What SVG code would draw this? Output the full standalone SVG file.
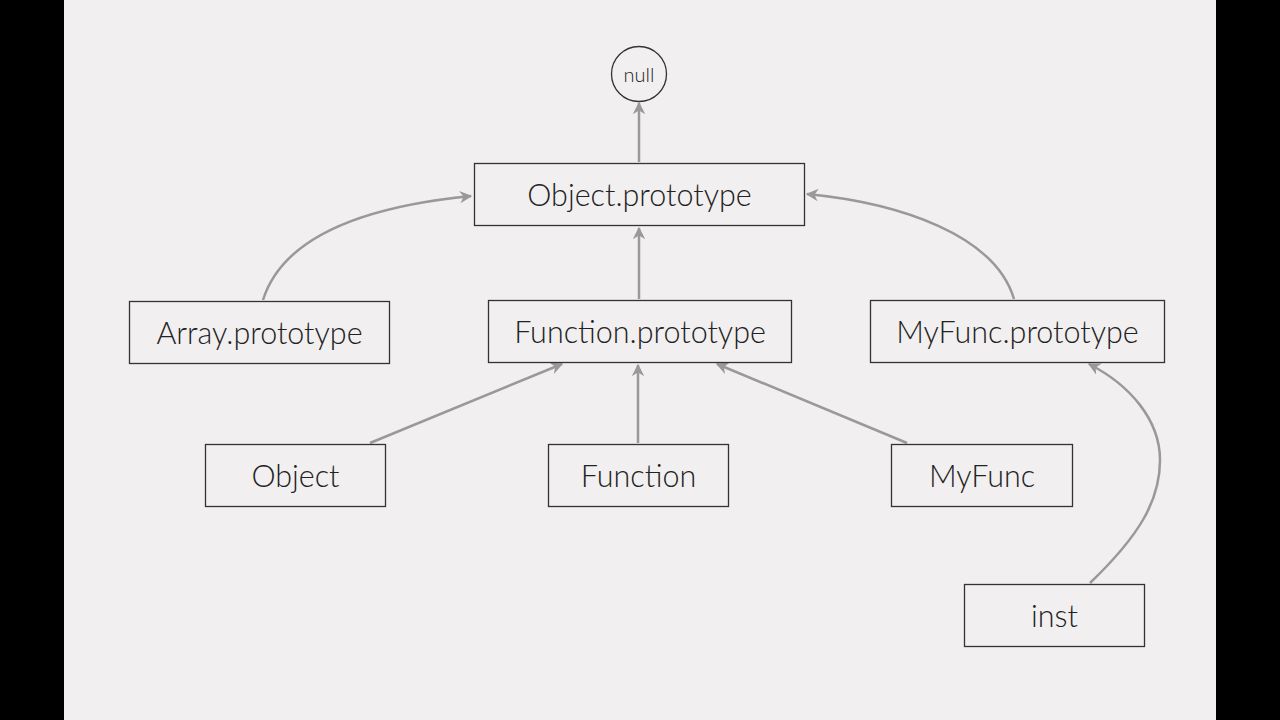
<svg xmlns="http://www.w3.org/2000/svg" width="1280" height="720" viewBox="0 0 1280 720">
<defs>
<style>
.node rect, .node circle { fill: none; stroke: #333; stroke-width: 1.3; }
.node text { font-family: Lato, "Open Sans", sans-serif; font-weight: 300; font-size: 30.5px; fill: #222; text-anchor: middle; dominant-baseline: central; }
.node text.small { font-size: 20px; }
#edges path { fill: none; stroke: #999; stroke-width: 2.5; marker-end: url(#arr); }
</style>
<marker id="arr" viewBox="0 0 10 10" refX="9" refY="5" markerWidth="5" markerHeight="5" orient="auto" markerUnits="strokeWidth">
<path d="M0,0 L10,5 L0,10 L3,5 Z" fill="#999"/>
</marker>
</defs>
<rect x="0" y="0" width="1280" height="720" fill="#000"/>
<rect x="64" y="0" width="1152" height="720" fill="#f1efef"/>
<g id="edges">
<path d="M639,162 L639,103"/>
<path d="M263,300 C285,230 380,205 471,196"/>
<path d="M1014,299 C995,235 900,203 807,194"/>
<path d="M639,299 L639,228"/>
<path d="M370,443 L562,364"/>
<path d="M638,443 L638,365"/>
<path d="M907,443 L717,364"/>
<path d="M1090,583 C1140,535 1160,500 1160,460 C1160,420 1130,385 1089,364"/>
</g>
<g id="null" class="node"><circle cx="639" cy="74" r="27.5"/><text class="small" x="639" y="74">null</text></g>
<g id="objectPrototype" class="node"><rect x="474.5" y="163.5" width="330" height="62"/><text x="639.5" y="194">Object.prototype</text></g>
<g id="arrayPrototype" class="node"><rect x="129.5" y="301.5" width="260" height="62"/><text x="259.5" y="332">Array.prototype</text></g>
<g id="functionPrototype" class="node"><rect x="488.5" y="300.5" width="303" height="62"/><text x="640" y="331">Function.prototype</text></g>
<g id="myFuncPrototype" class="node"><rect x="870.5" y="300.5" width="294" height="62"/><text x="1017.5" y="331">MyFunc.prototype</text></g>
<g id="object" class="node"><rect x="205.5" y="444.5" width="180" height="62"/><text x="295.5" y="475">Object</text></g>
<g id="function" class="node"><rect x="548.5" y="444.5" width="180" height="62"/><text x="638.5" y="475">Function</text></g>
<g id="myFunc" class="node"><rect x="891.5" y="444.5" width="181" height="62"/><text x="982" y="475">MyFunc</text></g>
<g id="inst" class="node"><rect x="964.5" y="584.5" width="180" height="62"/><text x="1054.5" y="615">inst</text></g>
</svg>
